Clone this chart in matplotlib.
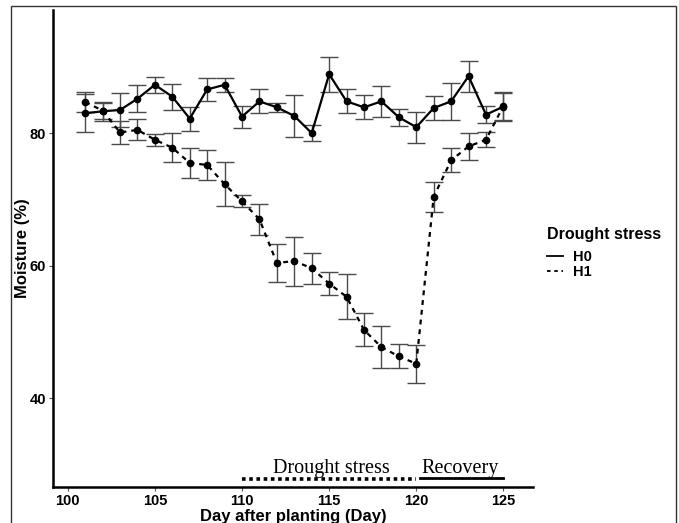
import numpy as np
import matplotlib
matplotlib.use("Agg")
import matplotlib.pyplot as plt
from matplotlib.lines import Line2D
from matplotlib.patches import Rectangle

# days after planting
days = list(range(101, 126))

# H0 (no drought) mean moisture and error
h0_mean = [83.0, 83.3, 83.5, 85.2, 87.3, 85.5, 82.2, 86.6, 87.3, 82.5,
           84.8, 83.9, 82.6, 80.0, 88.9, 84.8, 83.9, 84.8, 82.4, 80.9,
           83.8, 84.8, 88.6, 82.8, 84.0]
h0_err = [2.9, 1.45, 2.5, 2.0, 1.25, 1.95, 1.8, 1.8, 1.1, 1.65,
          1.8, 0.65, 3.2, 1.2, 2.65, 1.8, 1.8, 2.3, 1.25, 2.35,
          1.8, 2.8, 2.35, 1.25, 2.1]

# H1 (drought then recovery)
h1_mean = [84.7, 83.4, 80.1, 80.5, 79.0, 77.8, 75.5, 75.2, 72.3, 69.7,
           67.0, 60.4, 60.7, 59.6, 57.3, 55.3, 50.3, 47.7, 46.3, 45.2,
           70.4, 75.9, 78.0, 79.0, 84.1]
h1_err = [1.5, 1.2, 1.75, 1.6, 0.9, 2.15, 2.3, 2.2, 3.35, 0.9,
          2.3, 2.9, 3.7, 2.3, 1.8, 3.4, 2.5, 3.15, 1.8, 2.85,
          2.3, 1.8, 2.0, 1.15, 2.1]

x_ticks = [100, 105, 110, 115, 120, 125]
y_ticks = [40, 60, 80]

# treatment phases shown under the curves
drought_span = (110, 120)
recovery_span = (120.2, 125)

fig = plt.figure(figsize=(6.79, 5.23), dpi=100)
ax = fig.add_axes([0.078, 0.069, 0.707, 0.912])

err_kw = dict(ecolor="#4a4a4a", elinewidth=1.0, capsize=6.5, capthick=1.0)
ax.errorbar(days, h0_mean, yerr=h0_err, fmt="none", **err_kw)
ax.errorbar(days, h1_mean, yerr=h1_err, fmt="none", **err_kw)
ax.plot(days, h0_mean, color="black", lw=1.6, ls="-", marker="o", ms=4.5)
ax.plot(days, h1_mean, color="black", lw=1.6, ls=(0, (2.2, 2.2)), marker="o", ms=4.5)

# phase annotations
ax.plot(drought_span, [27.8, 27.8], color="black", lw=2.6, ls=(0, (1.0, 1.0)))
ax.plot(recovery_span, [27.9, 27.9], color="black", lw=2.0)
ax.text(np.mean(drought_span) + 0.15, 29.4, "Drought stress", family="Liberation Serif",
        fontsize=14.5, ha="center", va="center")
ax.text(np.mean(recovery_span) - 0.1, 29.4, "Recovery", family="Liberation Serif",
        fontsize=14.5, ha="center", va="center")

ax.set_xlim(99.15, 126.7)
ax.set_ylim(26.6, 98.6)
ax.set_xticks(x_ticks)
ax.set_yticks(y_ticks)
for lab in ax.get_xticklabels() + ax.get_yticklabels():
    lab.set_fontweight("bold")
    lab.set_family("Liberation Sans")
    lab.set_fontsize(10.5)
ax.tick_params(length=3, width=0.8, color="#555555", pad=2)

ax.set_xlabel("Day after planting (Day)", fontweight="bold", family="Liberation Sans",
              fontsize=12, labelpad=1)
ax.set_ylabel("Moisture (%)", fontweight="bold", family="Liberation Sans", fontsize=12)
ax.yaxis.set_label_coords(-0.047, 0.5)

for s in ["top", "right"]:
    ax.spines[s].set_visible(False)
for s in ["left", "bottom"]:
    ax.spines[s].set_linewidth(1.8)

handles = [Line2D([], [], color="black", lw=1.3, ls="-"),
           Line2D([], [], color="black", lw=1.3, ls=(0, (2, 2)))]
leg = fig.legend(handles, ["H0", "H1"], title="Drought stress", loc="upper left",
                 bbox_to_anchor=(0.797, 0.577), frameon=False, handlelength=1.1,
                 handletextpad=0.7, labelspacing=0.05, borderaxespad=0,
                 prop={"family": "Liberation Sans", "weight": "bold", "size": 10.5},
                 title_fontproperties={"family": "Liberation Sans", "weight": "bold", "size": 11.5})
leg._legend_box.align = "left"
leg._legend_box.sep = 6

# thin frame around the whole figure
fig.patches.append(Rectangle((0.016, -0.05), 0.979, 1.039, transform=fig.transFigure,
                             fill=False, lw=1.0, ec="#333333"))

fig.savefig("out.png", dpi=100)
